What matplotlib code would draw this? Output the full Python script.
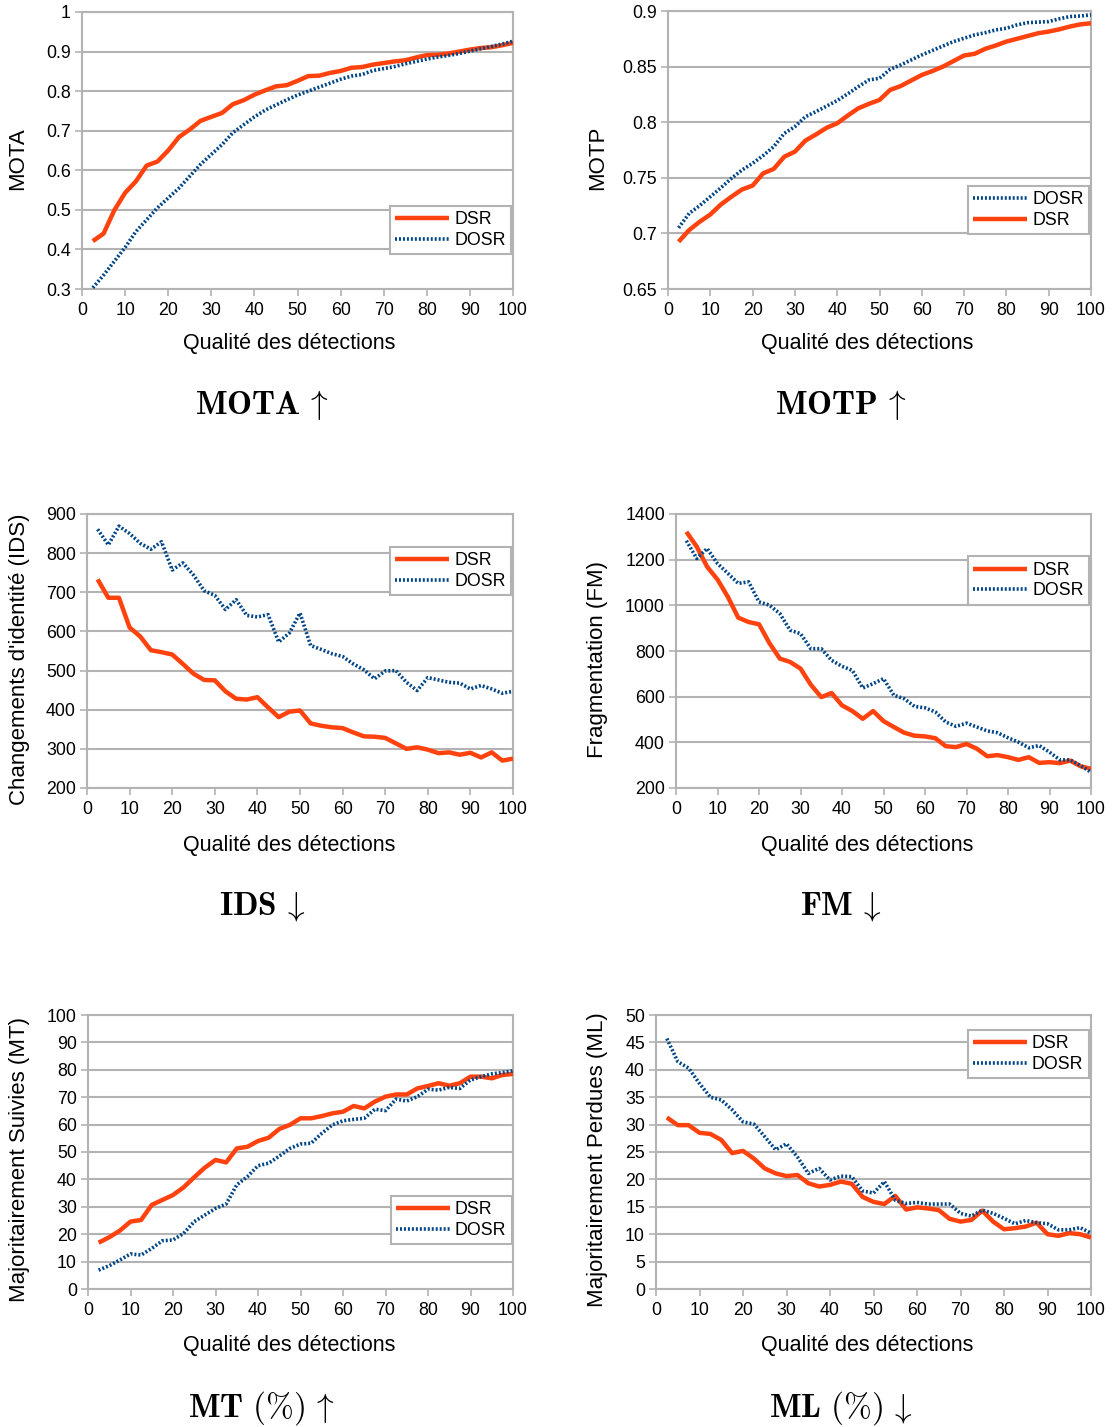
import matplotlib
matplotlib.use("Agg")
import matplotlib.pyplot as plt

plt.rcParams['font.family'] = ['Liberation Sans', 'DejaVu Sans']
plt.rcParams['mathtext.fontset'] = 'cm'

# x: qualité des détections (%)
x = [2.5 * i for i in range(1, 41)]

mota_dsr = [0.421, 0.44, 0.499, 0.543, 0.572, 0.612, 0.622, 0.65, 0.684, 0.703,
            0.725, 0.735, 0.745, 0.767, 0.777, 0.791, 0.802, 0.812, 0.815, 0.826,
            0.838, 0.839, 0.846, 0.851, 0.859, 0.861, 0.867, 0.871, 0.875, 0.878,
            0.885, 0.891, 0.892, 0.895, 0.9, 0.905, 0.909, 0.911, 0.916, 0.922]
mota_dosr = [0.303, 0.335, 0.37, 0.405, 0.445, 0.475, 0.505, 0.53, 0.555, 0.585,
             0.615, 0.64, 0.665, 0.695, 0.715, 0.735, 0.752, 0.765, 0.778, 0.79,
             0.8, 0.81, 0.82, 0.83, 0.838, 0.842, 0.852, 0.857, 0.862, 0.869,
             0.875, 0.881, 0.886, 0.89, 0.895, 0.901, 0.907, 0.913, 0.919, 0.926]

motp_dsr = [0.6925, 0.703, 0.7105, 0.717, 0.726, 0.733, 0.7395, 0.743, 0.754, 0.758,
            0.769, 0.7735, 0.7835, 0.789, 0.795, 0.799, 0.806, 0.8125, 0.8165, 0.82,
            0.829, 0.8325, 0.8375, 0.8425, 0.846, 0.85, 0.855, 0.86, 0.8615, 0.866,
            0.869, 0.8725, 0.875, 0.8775, 0.88, 0.8815, 0.8835, 0.886, 0.888, 0.889]
motp_dosr = [0.705, 0.718, 0.725, 0.733, 0.741, 0.7495, 0.757, 0.763, 0.77, 0.778,
             0.79, 0.796, 0.805, 0.8095, 0.8145, 0.8195, 0.8255, 0.832, 0.838, 0.8395,
             0.8475, 0.8515, 0.856, 0.8605, 0.8645, 0.8685, 0.8725, 0.8755, 0.8785, 0.8805,
             0.883, 0.8845, 0.8875, 0.8895, 0.89, 0.8905, 0.893, 0.895, 0.8955, 0.8965]

ids_dsr = [733, 686, 686, 610, 587, 552, 547, 541, 517, 492,
           476, 475, 447, 428, 426, 432, 406, 381, 395, 398,
           365, 359, 355, 353, 342, 332, 331, 328, 314, 300,
           304, 298, 289, 291, 285, 290, 278, 291, 270, 275]
ids_dosr = [861, 821, 869, 850, 825, 810, 829, 757, 775, 744,
            704, 692, 656, 681, 641, 637, 643, 573, 596, 647,
            564, 554, 543, 536, 517, 502, 479, 499, 500, 470,
            449, 482, 476, 470, 468, 453, 462, 453, 442, 447]

fm_dsr = [1322, 1257, 1169, 1113, 1037, 946, 927, 917, 835, 767,
          752, 723, 652, 598, 616, 562, 537, 503, 537, 493,
          467, 442, 429, 426, 418, 383, 379, 393, 372, 339,
          344, 335, 323, 335, 310, 313, 309, 320, 295, 284]
fm_dosr = [1283, 1205, 1249, 1183, 1140, 1096, 1103, 1015, 1001, 964,
           891, 876, 810, 810, 759, 733, 715, 638, 657, 679,
           606, 591, 557, 551, 533, 489, 470, 484, 467, 450,
           442, 420, 401, 376, 386, 357, 323, 323, 298, 269]

mt_dsr = [16.9, 18.9, 21.3, 24.6, 25.2, 30.7, 32.5, 34.3, 37.1, 40.8,
          44.3, 47.1, 46.2, 51.3, 51.9, 54.0, 55.2, 58.4, 59.9, 62.3,
          62.3, 63.1, 64.1, 64.7, 66.8, 65.9, 68.4, 70.2, 71.0, 71.0,
          73.2, 74.1, 75.1, 74.2, 75.1, 77.5, 77.5, 76.9, 78.1, 78.5]
mt_dosr = [6.9, 8.5, 10.6, 12.8, 12.4, 14.8, 17.6, 17.9, 20.3, 24.6,
           27.0, 29.4, 31.0, 38.0, 41.0, 45.0, 45.9, 48.5, 51.3, 52.9,
           53.2, 56.8, 59.9, 61.4, 61.9, 62.3, 65.6, 65.1, 69.3, 68.6,
           70.2, 72.9, 72.6, 73.6, 73.2, 76.3, 77.5, 78.5, 79.0, 79.6]

ml_dsr = [31.3, 29.9, 29.9, 28.5, 28.3, 27.2, 24.8, 25.2, 23.8, 22.0,
          21.1, 20.6, 20.8, 19.3, 18.7, 19.0, 19.6, 19.2, 16.8, 15.9,
          15.5, 17.0, 14.5, 14.9, 14.7, 14.4, 12.8, 12.3, 12.6, 14.3,
          12.3, 10.9, 11.1, 11.4, 12.1, 10.0, 9.7, 10.2, 10.0, 9.4]
ml_dosr = [45.7, 41.5, 40.3, 37.5, 35.0, 34.5, 32.7, 30.5, 30.1, 27.8,
           25.4, 26.5, 24.1, 21.1, 22.0, 19.9, 20.6, 20.5, 17.9, 17.5,
           19.6, 16.2, 15.6, 15.8, 15.5, 15.5, 15.5, 13.8, 13.3, 14.4,
           13.8, 12.9, 11.9, 12.5, 12.1, 11.9, 10.8, 10.8, 11.2, 10.2]

W, H = 1114, 1427
RED = '#ff420e'
BLUE = '#004586'
GRAY = '#b3b3b3'

fig = plt.figure(figsize=(W / 100, H / 100), dpi=100)


def px_box(l, t, r, b):
    return [l / W, 1 - b / H, (r - l) / W, (b - t) / H]


panels = [
    # box, ylim, yticks, ticklabels, ylabel, ylabel x, legend anchor, dosr first,
    # title, title x, row y (xlabel), title y, data
    ((82, 12, 513, 289), (0.3, 1.0), [0.3, 0.4, 0.5, 0.6, 0.7, 0.8, 0.9, 1.0],
     ['0.3', '0.4', '0.5', '0.6', '0.7', '0.8', '0.9', '1'],
     'MOTA', 18, (0.995, 0.30), False, r'$\mathbf{MOTA}\,\uparrow$', 262, 289, 344, 405,
     mota_dsr, mota_dosr),
    ((668, 11, 1091, 289), (0.65, 0.9), [0.65, 0.7, 0.75, 0.8, 0.85, 0.9],
     ['0.65', '0.7', '0.75', '0.8', '0.85', '0.9'],
     'MOTP', 598, (0.995, 0.37), True, r'$\mathbf{MOTP}\,\uparrow$', 841, 867, 344, 405,
     motp_dsr, motp_dosr),
    ((87, 514, 513, 788), (200, 900), list(range(200, 901, 100)), None,
     "Changements d'identité (IDS)", 20, (0.995, 0.88), False,
     r'$\mathbf{IDS}\,\downarrow$', 262, 289, 845, 907, ids_dsr, ids_dosr),
    ((676, 514, 1091, 788), (200, 1400), list(range(200, 1401, 200)), None,
     'Fragmentation (FM)', 598, (0.995, 0.845), False,
     r'$\mathbf{FM}\,\downarrow$', 841, 867, 845, 907, fm_dsr, fm_dosr),
    ((88, 1015, 513, 1289), (0, 100), list(range(0, 101, 10)), None,
     'Majoritairement Suivies (MT)', 20, (0.997, 0.34), False,
     r'$\mathbf{MT}\ (\%)\,\uparrow$', 262, 289, 1346, 1408, mt_dsr, mt_dosr),
    ((656, 1015, 1091, 1289), (0, 50), list(range(0, 51, 5)), None,
     'Majoritairement Perdues (ML)', 598, (0.995, 0.945), False,
     r'$\mathbf{ML}\ (\%)\,\downarrow$', 841, 867, 1346, 1408, ml_dsr, ml_dosr),
]

for (bx, ylim, yticks, ylabels, ylabel, ylx, anchor, dosr_first, title, tx, xlx,
     xly, ty, dsr, dosr) in panels:
    ax = fig.add_axes(px_box(*bx))
    l_dsr, = ax.plot(x, dsr, color=RED, lw=3.2, solid_capstyle='butt', zorder=3)
    l_dosr, = ax.plot(x, dosr, color=BLUE, lw=2.6, linestyle=(0, (0.55, 0.55)),
                      zorder=3)
    ax.set_xlim(0, 100)
    ax.set_ylim(*ylim)
    ax.set_xticks(range(0, 101, 10))
    ax.set_yticks(yticks)
    if ylabels is not None:
        ax.set_yticklabels(ylabels)
    ax.grid(axis='y', color=GRAY, lw=1.5)
    ax.set_axisbelow(True)
    for s in ax.spines.values():
        s.set_color(GRAY)
        s.set_linewidth(1.5)
    ax.tick_params(axis='both', direction='out', length=5, width=1.2, color=GRAY,
                   labelsize=12.8, pad=3)
    ax.tick_params(axis='x', pad=4.5)
    handles = [l_dosr, l_dsr] if dosr_first else [l_dsr, l_dosr]
    labels = ['DOSR', 'DSR'] if dosr_first else ['DSR', 'DOSR']
    leg = ax.legend(handles, labels, loc='upper right', bbox_to_anchor=anchor,
                    borderaxespad=0, fancybox=False, framealpha=1,
                    edgecolor=GRAY, fontsize=12.8, handlelength=3.0,
                    handletextpad=0.3, borderpad=0.3, labelspacing=0.2)
    leg.get_frame().set_linewidth(1.5)

    fig.text(xlx / W, 1 - xly / H, 'Qualité des détections',
             ha='center', va='center', fontsize=15.5)
    fig.text(ylx / W, 1 - ((bx[1] + bx[3]) / 2 + 8) / H, ylabel, rotation=90,
             ha='center', va='center', fontsize=16)
    fig.text(tx / W, 1 - ty / H, title, ha='center', va='center', fontsize=24)

fig.savefig('out.png', dpi=100)
